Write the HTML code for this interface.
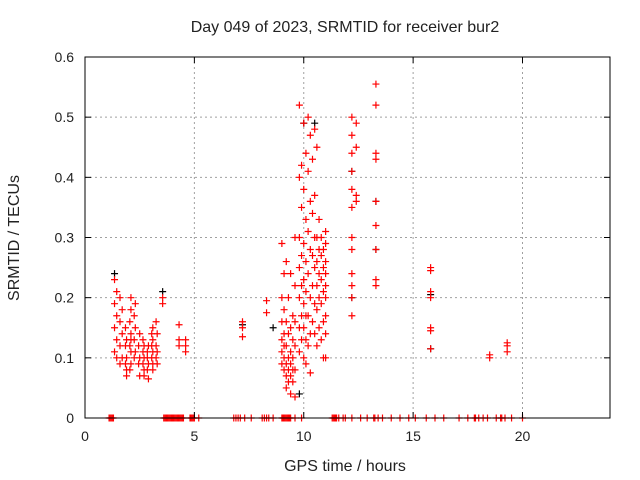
<!DOCTYPE html>
<html><head><meta charset="utf-8"><style>
body{margin:0;background:#fff;font-family:"Liberation Sans",sans-serif}
svg{display:block}
text{font-family:"Liberation Sans",sans-serif;font-size:14px;fill:#222}
.big{font-size:16px}
</style></head><body>
<svg id="c" width="640" height="480">
<text class="big" x="345" y="32" text-anchor="middle">Day 049 of 2023, SRMTID for receiver bur2</text>
<text class="big" x="345" y="471" text-anchor="middle">GPS time / hours</text>
<text class="big" transform="translate(19,238) rotate(-90)" text-anchor="middle">SRMTID / TECUs</text>
<g id="grid"></g><g id="marks"></g><g id="axes"></g>
</svg>
<script>
const xTicks=[0,5,10,15,20];
const yTicks=[0,0.1,0.2,0.3,0.4,0.5,0.6];
const yTickLabels=["0","0.1","0.2","0.3","0.4","0.5","0.6"];
const groupTimes=[1.35,1.45,1.6,1.7,1.85,1.9,2.05,2.1,2.25,2.3,2.45,2.5,2.65,2.7,2.85,2.9,3.05,3.1,3.25,3.3,3.55,4.3,4.6,7.2,8.3,9.0,9.1,9.2,9.3,9.4,9.5,9.6,9.8,9.9,10.0,10.1,10.2,10.3,10.4,10.5,10.6,10.7,10.8,10.9,11.0,12.2,12.4,13.3,15.8,18.5,19.3];
const groupValues=[
[0.23,0.19,0.15,0.11],
[0.21,0.17,0.13,0.10],
[0.2,0.16,0.12,0.09],
[0.18,0.14,0.1],
[0.15,0.12,0.09],
[0.13,0.1,0.08,0.07],
[0.16,0.12,0.08],
[0.2,0.18,0.14,0.13,0.11,0.09],
[0.17,0.13,0.1],
[0.19,0.15,0.11],
[0.12,0.09],
[0.14,0.1,0.07],
[0.13,0.11,0.09],
[0.12,0.1,0.08,0.07],
[0.11,0.1,0.08],
[0.12,0.09,0.065],
[0.14,0.12,0.1],
[0.15,0.13,0.11,0.09,0.08],
[0.16,0.12,0.1],
[0.14,0.11,0.09],
[0.2,0.19],
[0.155,0.13,0.12],
[0.13,0.12,0.11],
[0.16,0.15,0.135],
[0.195,0.175],
[0.29,0.2,0.16,0.13,0.11,0.09],
[0.24,0.18,0.14,0.12,0.1,0.08],
[0.26,0.16,0.12,0.09,0.07,0.05],
[0.2,0.14,0.1,0.08,0.06],
[0.24,0.15,0.11,0.09,0.07,0.04],
[0.17,0.13,0.1,0.08,0.06],
[0.3,0.22,0.16,0.12,0.08,0.035],
[0.52,0.4,0.3,0.25,0.2,0.15,0.11],
[0.42,0.35,0.27,0.22,0.17,0.13],
[0.49,0.38,0.29,0.23,0.19,0.15,0.1],
[0.44,0.33,0.26,0.21,0.17,0.13,0.09],
[0.5,0.41,0.31,0.24,0.17,0.12],
[0.47,0.36,0.28,0.2,0.14,0.075],
[0.43,0.34,0.27,0.22,0.16],
[0.48,0.37,0.3,0.25,0.19,0.14],
[0.45,0.3,0.26,0.22,0.18,0.12],
[0.33,0.28,0.24,0.2,0.15],
[0.3,0.27,0.23,0.19,0.13],
[0.28,0.25,0.21,0.16,0.1],
[0.31,0.29,0.26,0.24,0.22,0.2,0.17,0.14,0.1],
[0.5,0.47,0.44,0.41,0.38,0.35,0.3,0.28,0.24,0.22,0.2,0.17],
[0.49,0.45,0.37,0.36],
[0.555,0.52,0.44,0.43,0.36,0.32,0.28,0.23,0.22],
[0.25,0.245,0.21,0.2,0.15,0.145,0.115],
[0.105,0.1],
[0.125,0.12,0.11]];
const zeroTimes=[1.1,1.15,1.2,1.25,1.3,3.6,3.65,3.7,3.75,3.8,3.85,3.9,3.95,4.0,4.05,4.1,4.15,4.2,4.25,4.3,4.35,4.4,4.45,4.5,4.8,4.85,4.9,4.95,5.0,5.2,6.8,6.9,7.0,7.1,7.3,7.6,8.1,8.2,8.3,8.4,8.6,9.0,9.05,9.1,9.15,9.2,9.25,9.3,9.35,9.4,9.6,9.9,11.3,11.35,11.4,11.45,11.5,11.6,11.8,11.9,12.2,12.6,12.9,13.2,13.25,13.4,13.6,14.0,14.4,14.8,15.1,15.6,16.0,16.4,17.1,17.5,17.8,17.85,18.0,18.2,18.4,18.8,19.0,19.05,19.2,19.5,20.0];
const blackT=[1.35,3.55,7.2,8.6,10.0,10.5,12.2,13.3,13.3,15.8,15.8,12.2,9.8];
const blackV=[0.24,0.21,0.155,0.15,0.49,0.49,0.41,0.36,0.28,0.205,0.115,0.2,0.04];

const X0=85,X1=610,Y0=418,Y1=57,XMAX=24,YMAX=0.6;
const xs=t=>X0+(X1-X0)*t/XMAX, ys=v=>Y0-(Y0-Y1)*v/YMAX;
const NS="http://www.w3.org/2000/svg";
function mk(tag,attrs,parent){const e=document.createElementNS(NS,tag);for(const k in attrs)e.setAttribute(k,attrs[k]);parent.appendChild(e);return e;}
const grid=document.getElementById('grid'),marks=document.getElementById('marks'),axes=document.getElementById('axes');
const fr=mk('rect',{x:X0,y:Y1,width:X1-X0,height:Y0-Y1,fill:'none',stroke:'#000','stroke-width':1},axes);


xTicks.forEach(t=>{const x=xs(t);
 if(t>0){const g=mk('line',{x1:x,x2:x,y1:Y1,y2:Y0,stroke:'#a0a0a0','stroke-dasharray':'2,3'},grid);}
 mk('line',{x1:x,x2:x,y1:Y0,y2:Y0-6,stroke:'#000'},axes);mk('line',{x1:x,x2:x,y1:Y1,y2:Y1+6,stroke:'#000'},axes);
 const l=mk('text',{x:x,y:Y0+23,'text-anchor':'middle'},axes);l.textContent=t;
 
 });
yTicks.forEach((v,i)=>{const y=ys(v);
 if(v>0&&v<YMAX){const g=mk('line',{x1:X0,x2:X1,y1:y,y2:y,stroke:'#a0a0a0','stroke-dasharray':'2,3'},grid);}
 mk('line',{x1:X0,x2:X0+6,y1:y,y2:y,stroke:'#000'},axes);mk('line',{x1:X1,x2:X1-6,y1:y,y2:y,stroke:'#000'},axes);
 const l=mk('text',{x:X0-11,y:y+5,'text-anchor':'end'},axes);l.textContent=yTickLabels[i];
 
 });
function plus(t,v,col,name){const x=xs(t),y=ys(v);
 const p=mk('path',{d:`M${x-3.5},${y}H${x+3.5}M${x},${y-3.5}V${y+3.5}`,stroke:col,'stroke-width':1.2,fill:'none'},marks);
 
 }
blackT.forEach((t,i)=>plus(t,blackV[i],'#000','black-point'));
groupTimes.forEach((t,i)=>groupValues[i].forEach(v=>plus(t,v,'#f00','red-point')));
zeroTimes.forEach(t=>plus(t,0,'#f00','zero-point'));
</script>
</body></html>
